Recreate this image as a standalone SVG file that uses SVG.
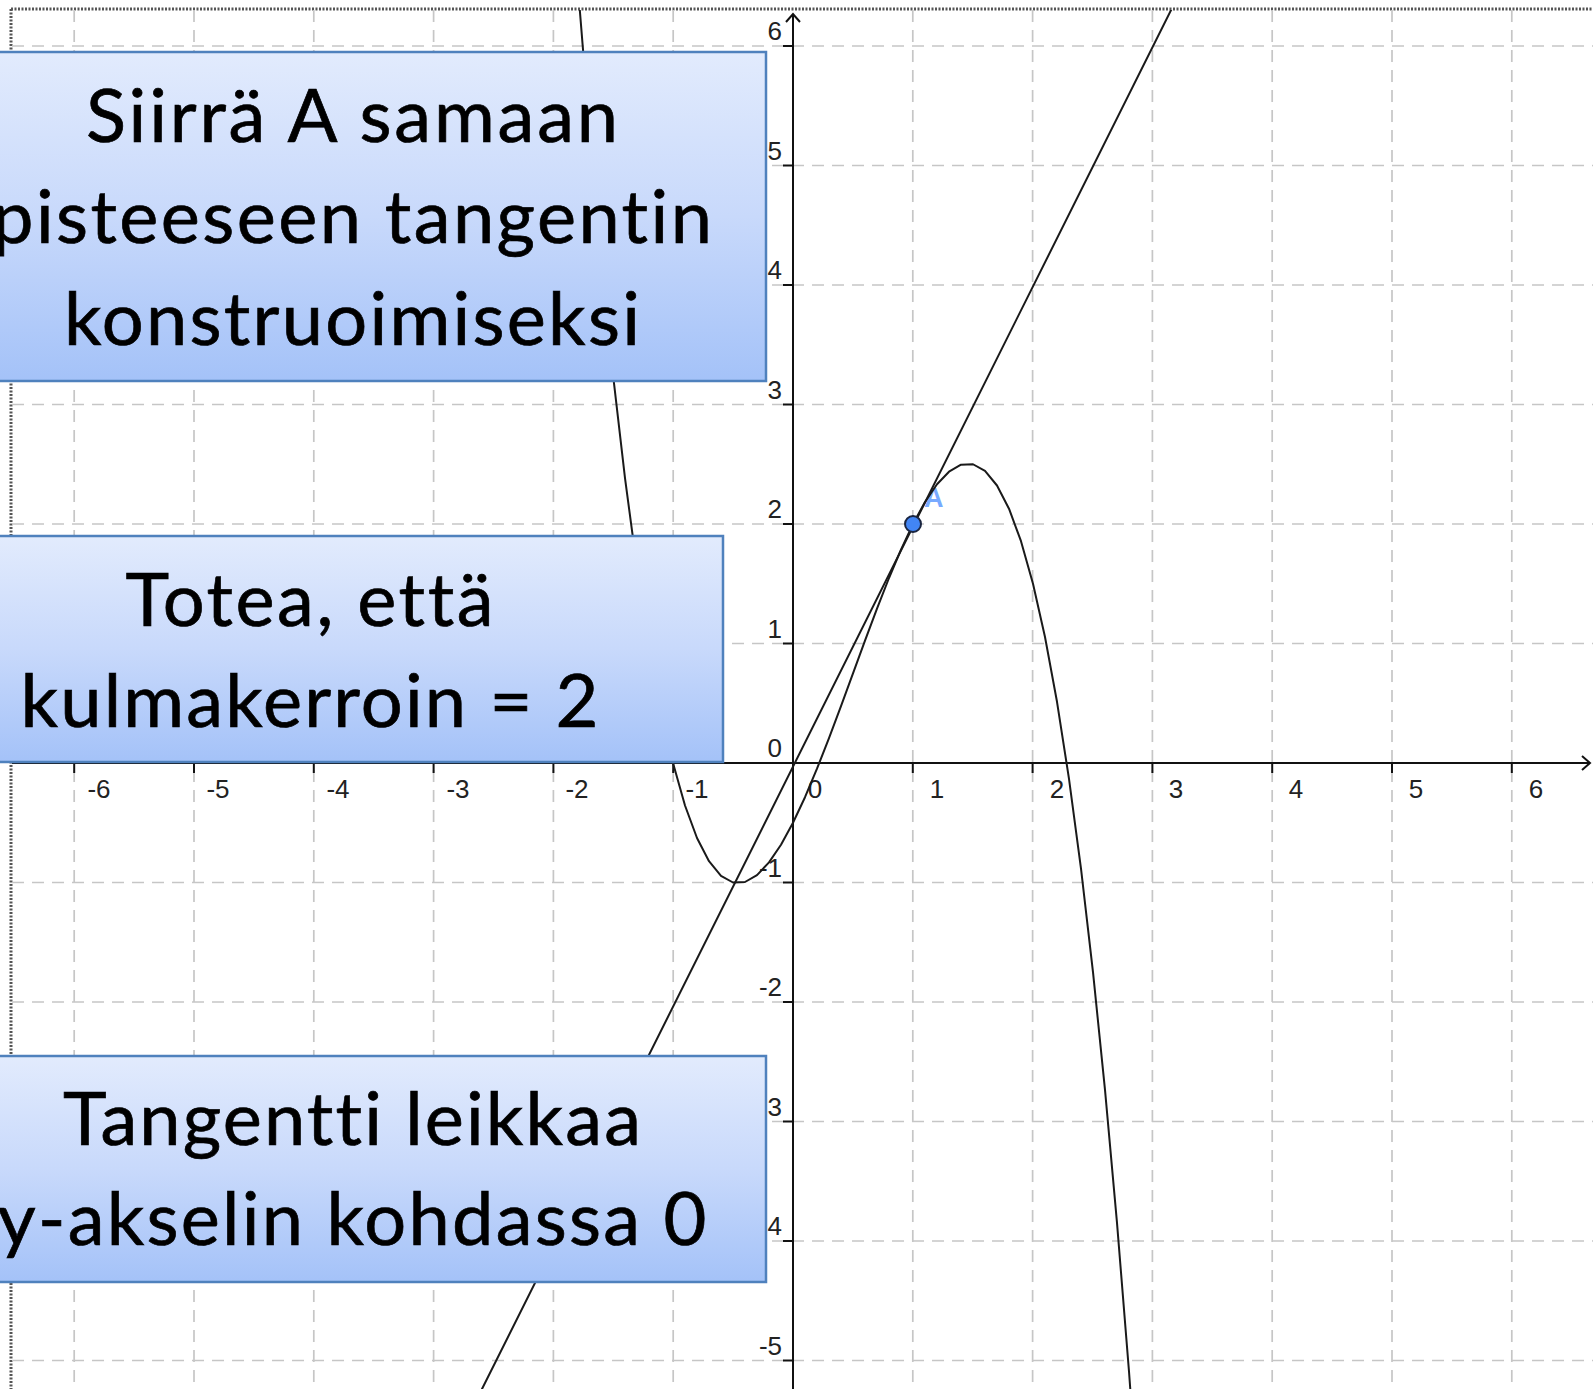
<svg xmlns="http://www.w3.org/2000/svg" width="1593" height="1389" viewBox="0 0 1593 1389">
  <defs>
    <linearGradient id="boxGrad" x1="0" y1="0" x2="0" y2="1">
      <stop offset="0" stop-color="#e2ebfd"/>
      <stop offset="0.5" stop-color="#c8d9fb"/>
      <stop offset="1" stop-color="#a4c2f8"/>
    </linearGradient>
    <clipPath id="plotClip">
      <rect x="11" y="10" width="1582" height="1379"/>
    </clipPath>
    <style>
      .grid { stroke: #c6c6c6; stroke-width: 1.7; stroke-dasharray: 12 8; fill: none; }
      .axis { stroke: #111; stroke-width: 2; fill: none; }
      .tick { stroke: #111; stroke-width: 2; }
      .xl { font-family: "Liberation Sans", Arial, sans-serif; font-size: 26px; fill: #222; text-anchor: middle; }
      .yl { font-family: "Liberation Sans", Arial, sans-serif; font-size: 26px; fill: #222; text-anchor: end; }
      .plot { stroke: #1a1a1a; stroke-width: 2; fill: none; stroke-linejoin: round; stroke-linecap: round; }
      .box { fill: url(#boxGrad); stroke: #4f81bd; stroke-width: 2.5; }
      .bt { font-family: Lato, "Open Sans", sans-serif; font-size: 74px; fill: #000; stroke: #000; stroke-width: 0.7; text-anchor: middle; font-variant-ligatures: none; font-feature-settings: "liga" 0, "clig" 0; }
    </style>
  </defs>

  <rect x="0" y="0" width="1593" height="1389" fill="#fff"/>

  <!-- frame -->
  <g id="frame" stroke="#555" stroke-width="3" stroke-dasharray="2 1.5" fill="none">
    <line x1="11" y1="9" x2="1593" y2="9"/>
    <line x1="11" y1="9" x2="11" y2="1389"/>
  </g>

  <!-- grid -->
  <g id="grid" class="grid">
    <line x1="74.2" y1="10" x2="74.2" y2="1389"/>
    <line x1="194" y1="10" x2="194" y2="1389"/>
    <line x1="313.8" y1="10" x2="313.8" y2="1389"/>
    <line x1="433.6" y1="10" x2="433.6" y2="1389"/>
    <line x1="553.4" y1="10" x2="553.4" y2="1389"/>
    <line x1="673.2" y1="10" x2="673.2" y2="1389"/>
    <line x1="912.8" y1="10" x2="912.8" y2="1389"/>
    <line x1="1032.6" y1="10" x2="1032.6" y2="1389"/>
    <line x1="1152.4" y1="10" x2="1152.4" y2="1389"/>
    <line x1="1272.2" y1="10" x2="1272.2" y2="1389"/>
    <line x1="1392" y1="10" x2="1392" y2="1389"/>
    <line x1="1511.8" y1="10" x2="1511.8" y2="1389"/>
    <line x1="12" y1="46" x2="1593" y2="46"/>
    <line x1="12" y1="165.5" x2="1593" y2="165.5"/>
    <line x1="12" y1="285" x2="1593" y2="285"/>
    <line x1="12" y1="404.5" x2="1593" y2="404.5"/>
    <line x1="12" y1="524" x2="1593" y2="524"/>
    <line x1="12" y1="643.5" x2="1593" y2="643.5"/>
    <line x1="12" y1="882.5" x2="1593" y2="882.5"/>
    <line x1="12" y1="1002" x2="1593" y2="1002"/>
    <line x1="12" y1="1121.5" x2="1593" y2="1121.5"/>
    <line x1="12" y1="1241" x2="1593" y2="1241"/>
    <line x1="12" y1="1360.5" x2="1593" y2="1360.5"/>
  </g>

  <!-- axes -->
  <g id="axes">
    <line class="axis" x1="12" y1="763" x2="1590" y2="763"/>
    <polyline class="axis" points="1582,756 1590,763 1582,770"/>
    <line class="axis" x1="793" y1="1389" x2="793" y2="14"/>
    <polyline class="axis" points="786,22 793,14 800,22"/>
    <g class="tick">
      <line x1="74.2" y1="763" x2="74.2" y2="773"/>
      <line x1="194" y1="763" x2="194" y2="773"/>
      <line x1="313.8" y1="763" x2="313.8" y2="773"/>
      <line x1="433.6" y1="763" x2="433.6" y2="773"/>
      <line x1="553.4" y1="763" x2="553.4" y2="773"/>
      <line x1="673.2" y1="763" x2="673.2" y2="773"/>
      <line x1="912.8" y1="763" x2="912.8" y2="773"/>
      <line x1="1032.6" y1="763" x2="1032.6" y2="773"/>
      <line x1="1152.4" y1="763" x2="1152.4" y2="773"/>
      <line x1="1272.2" y1="763" x2="1272.2" y2="773"/>
      <line x1="1392" y1="763" x2="1392" y2="773"/>
      <line x1="1511.8" y1="763" x2="1511.8" y2="773"/>
      <line x1="783" y1="46" x2="793" y2="46"/>
      <line x1="783" y1="165.5" x2="793" y2="165.5"/>
      <line x1="783" y1="285" x2="793" y2="285"/>
      <line x1="783" y1="404.5" x2="793" y2="404.5"/>
      <line x1="783" y1="524" x2="793" y2="524"/>
      <line x1="783" y1="643.5" x2="793" y2="643.5"/>
      <line x1="783" y1="882.5" x2="793" y2="882.5"/>
      <line x1="783" y1="1002" x2="793" y2="1002"/>
      <line x1="783" y1="1121.5" x2="793" y2="1121.5"/>
      <line x1="783" y1="1241" x2="793" y2="1241"/>
      <line x1="783" y1="1360.5" x2="793" y2="1360.5"/>
    </g>
    <g id="xlabels">
      <text class="xl" x="99" y="798">-6</text>
      <text class="xl" x="218" y="798">-5</text>
      <text class="xl" x="338" y="798">-4</text>
      <text class="xl" x="458" y="798">-3</text>
      <text class="xl" x="577" y="798">-2</text>
      <text class="xl" x="697" y="798">-1</text>
      <text class="xl" x="815" y="798">0</text>
      <text class="xl" x="937" y="798">1</text>
      <text class="xl" x="1057" y="798">2</text>
      <text class="xl" x="1176" y="798">3</text>
      <text class="xl" x="1296" y="798">4</text>
      <text class="xl" x="1416" y="798">5</text>
      <text class="xl" x="1536" y="798">6</text>
    </g>
    <g id="ylabels">
      <text class="yl" x="782" y="40">6</text>
      <text class="yl" x="782" y="159.5">5</text>
      <text class="yl" x="782" y="279">4</text>
      <text class="yl" x="782" y="398.5">3</text>
      <text class="yl" x="782" y="518">2</text>
      <text class="yl" x="782" y="637.5">1</text>
      <text class="yl" x="782" y="757">0</text>
      <text class="yl" x="782" y="876.5">-1</text>
      <text class="yl" x="782" y="996">-2</text>
      <text class="yl" x="782" y="1115.5">-3</text>
      <text class="yl" x="782" y="1235">-4</text>
      <text class="yl" x="782" y="1354.5">-5</text>
    </g>
  </g>

  <!-- point label A (under the lines) -->
  <text x="924" y="507" font-family="Liberation Sans, Arial, sans-serif" font-size="27" font-weight="bold" fill="#78aaff">A</text>

  <!-- curve and tangent -->
  <g id="plot" clip-path="url(#plotClip)">
    <polyline id="curve" class="plot" points="577,-24.7 589,123.9 601,256.8 613,374.6 625,478.1 637,568 649,644.9 661,709.7 673,763 685,805.5 697,838 709,861.2 721,875.8 733,882.5 745,882 757,875.1 769,862.4 781,844.7 793,822.75 805,797.2 817,768.7 829,738.1 841,706.1 853,673.4 865,640.6 877,608.6 889,578 901,549.6 913,524 925,502 937,484.3 949,471.7 961,464.7 973,464.25 985,470.9 997,485.5 1009,508.7 1021,541.2 1033,583.75 1045,637 1057,701.8 1069,778.8 1081,868.6 1093,972.1 1105,1089.9 1117,1222.8 1129,1371.5 1141,1536.6"/>
    <line id="tangent" class="plot" x1="482" y1="1389" x2="1171.6" y2="9"/>
  </g>

  <!-- point A -->
  <circle id="pointA" cx="913" cy="524" r="8" fill="#4285f4" stroke="#1a2540" stroke-width="2"/>

  <!-- text boxes -->
  <g id="box1">
    <rect class="box" x="-60" y="52" width="826" height="329"/>
    <text class="bt" x="352" y="142" textLength="532">Siirrä A samaan</text>
    <text class="bt" x="352" y="243" textLength="720">pisteeseen tangentin</text>
    <text class="bt" x="352" y="345" textLength="576">konstruoimiseksi</text>
  </g>
  <g id="box2">
    <rect class="box" x="-103" y="536" width="826" height="226"/>
    <text class="bt" x="309.5" y="626" textLength="368">Totea, että</text>
    <text class="bt" x="309.5" y="727" textLength="578">kulmakerroin = 2</text>
  </g>
  <g id="box3">
    <rect class="box" x="-60" y="1056" width="826" height="226"/>
    <text class="bt" x="352" y="1145" textLength="578">Tangentti leikkaa</text>
    <text class="bt" x="352" y="1245" textLength="709">y-akselin kohdassa 0</text>
  </g>
</svg>
